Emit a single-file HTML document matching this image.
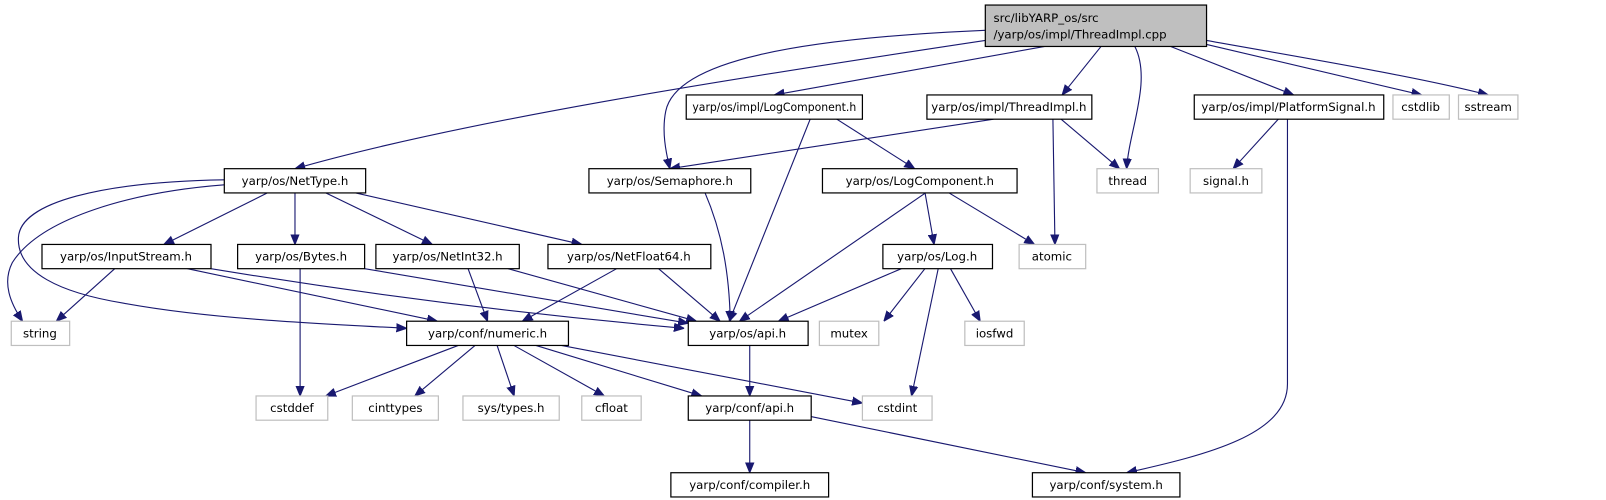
<!DOCTYPE html>
<html><head><meta charset="utf-8"><style>
html,body{margin:0;padding:0;background:#fff;width:1606px;height:500px;overflow:hidden}
svg{display:block}
text{font-family:"DejaVu Sans","Liberation Sans",sans-serif;font-size:11.5px;fill:#000;text-anchor:middle}
.n{fill:#fff;stroke:#000;stroke-width:1.2}
.g{fill:#fff;stroke:#bfbfbf;stroke-width:1.2}
.e{fill:none;stroke:#191970;stroke-width:1.1;marker-end:url(#a)}
</style></head><body>
<svg width="1606" height="500" viewBox="0 0 1568 495" preserveAspectRatio="none">
<defs><marker id="a" viewBox="0 0 10 10" refX="10" refY="5" markerWidth="10" markerHeight="10" markerUnits="userSpaceOnUse" orient="auto"><path d="M0,1 L10,5 L0,9 z" fill="#191970" stroke="#191970"/></marker></defs>
<path class="e" d="M962,40 C700,80 450,120 288,167"/>
<path class="e" d="M962,30 C780,38 660,60 650,110 C646,130 650,150 654,167"/>
<path class="e" d="M1020,46 L756,94"/>
<path class="e" d="M1075,46 L1037,94"/>
<path class="e" d="M1108,46 C1125,80 1102,130 1100,167"/>
<path class="e" d="M1143,46 L1263,94"/>
<path class="e" d="M1178,44 L1388,94"/>
<path class="e" d="M1178,40 C1260,55 1380,75 1453,94"/>
<path class="e" d="M791,118 L712,318"/>
<path class="e" d="M817,118 L893,167"/>
<path class="e" d="M970,118 L654,167"/>
<path class="e" d="M1036,118 L1093,167"/>
<path class="e" d="M1028,118 L1030,242"/>
<path class="e" d="M1248,118 L1204,167"/>
<path class="e" d="M1257,118 L1257,380 C1257,430 1180,450 1100,468"/>
<path class="e" d="M688,190 C705,230 712,270 713,318"/>
<path class="e" d="M905,190 L722,318"/>
<path class="e" d="M903,190 L912,242"/>
<path class="e" d="M925,190 L1010,242"/>
<path class="e" d="M263,190 L160,242"/>
<path class="e" d="M288,190 L288,242"/>
<path class="e" d="M316,190 L422,242"/>
<path class="e" d="M343,190 L568,242"/>
<path class="e" d="M219,183 C130,190 40,215 12,260 C2,280 10,300 22,318"/>
<path class="e" d="M219,178 C100,180 20,200 18,235 C16,270 60,290 120,300 C200,315 300,320 397,325"/>
<path class="e" d="M112,266 L55,318"/>
<path class="e" d="M183,266 L427,318"/>
<path class="e" d="M206,266 C350,290 500,310 668,325"/>
<path class="e" d="M293,266 L293,392"/>
<path class="e" d="M356,266 L672,320"/>
<path class="e" d="M457,266 L476,318"/>
<path class="e" d="M496,266 L680,318"/>
<path class="e" d="M602,266 L510,318"/>
<path class="e" d="M643,266 L703,318"/>
<path class="e" d="M880,266 L760,318"/>
<path class="e" d="M903,266 L863,318"/>
<path class="e" d="M928,266 L957,318"/>
<path class="e" d="M916,266 L890,392"/>
<path class="e" d="M450,341 L318,392"/>
<path class="e" d="M465,341 L405,392"/>
<path class="e" d="M485,341 L502,392"/>
<path class="e" d="M500,341 L590,392"/>
<path class="e" d="M520,341 L685,392"/>
<path class="e" d="M543,341 L842,399"/>
<path class="e" d="M732,341 L732,392"/>
<path class="e" d="M732,415 L732,468"/>
<path class="e" d="M790,412 L1060,468"/>
<rect x="962" y="5" width="216" height="41" fill="#bfbfbf" stroke="#000" stroke-width="1.2"/>
<text x="970" y="22" style="text-anchor:start">src/libYARP_os/src</text>
<text x="970" y="38" style="text-anchor:start">/yarp/os/impl/ThreadImpl.cpp</text>
<rect class="n" x="670" y="94" width="172" height="24"/><text x="756" y="110" textLength="160" lengthAdjust="spacingAndGlyphs">yarp/os/impl/LogComponent.h</text>
<rect class="n" x="905" y="94" width="161" height="24"/><text x="985" y="110">yarp/os/impl/ThreadImpl.h</text>
<rect class="n" x="1166" y="94" width="185" height="24"/><text x="1258" y="110">yarp/os/impl/PlatformSignal.h</text>
<rect class="g" x="1360" y="94" width="55" height="24"/><text x="1387" y="110">cstdlib</text>
<rect class="g" x="1424" y="94" width="58" height="24"/><text x="1453" y="110">sstream</text>
<rect class="n" x="219" y="167" width="138" height="24"/><text x="288" y="183">yarp/os/NetType.h</text>
<rect class="n" x="575" y="167" width="158" height="24"/><text x="654" y="183">yarp/os/Semaphore.h</text>
<rect class="n" x="803" y="167" width="190" height="24"/><text x="898" y="183">yarp/os/LogComponent.h</text>
<rect class="g" x="1071" y="167" width="60" height="24"/><text x="1101" y="183">thread</text>
<rect class="g" x="1162" y="167" width="70" height="24"/><text x="1197" y="183">signal.h</text>
<rect class="n" x="41" y="242" width="165" height="24"/><text x="123" y="258">yarp/os/InputStream.h</text>
<rect class="n" x="232" y="242" width="124" height="24"/><text x="294" y="258">yarp/os/Bytes.h</text>
<rect class="n" x="367" y="242" width="140" height="24"/><text x="437" y="258">yarp/os/NetInt32.h</text>
<rect class="n" x="535" y="242" width="159" height="24"/><text x="614" y="258">yarp/os/NetFloat64.h</text>
<rect class="n" x="862" y="242" width="107" height="24"/><text x="915" y="258">yarp/os/Log.h</text>
<rect class="g" x="995" y="242" width="65" height="24"/><text x="1027" y="258">atomic</text>
<rect class="g" x="11" y="318" width="57" height="24"/><text x="39" y="334">string</text>
<rect class="n" x="397" y="318" width="158" height="24"/><text x="476" y="334">yarp/conf/numeric.h</text>
<rect class="n" x="672" y="318" width="117" height="24"/><text x="730" y="334">yarp/os/api.h</text>
<rect class="g" x="800" y="318" width="58" height="24"/><text x="829" y="334">mutex</text>
<rect class="g" x="942" y="318" width="58" height="24"/><text x="971" y="334">iosfwd</text>
<rect class="g" x="250" y="392" width="70" height="24"/><text x="285" y="408">cstddef</text>
<rect class="g" x="344" y="392" width="84" height="24"/><text x="386" y="408">cinttypes</text>
<rect class="g" x="452" y="392" width="94" height="24"/><text x="499" y="408">sys/types.h</text>
<rect class="g" x="568" y="392" width="58" height="24"/><text x="597" y="408">cfloat</text>
<rect class="n" x="672" y="392" width="120" height="24"/><text x="732" y="408">yarp/conf/api.h</text>
<rect class="g" x="842" y="392" width="68" height="24"/><text x="876" y="408">cstdint</text>
<rect class="n" x="655" y="468" width="154" height="24"/><text x="732" y="484">yarp/conf/compiler.h</text>
<rect class="n" x="1008" y="468" width="144" height="24"/><text x="1080" y="484">yarp/conf/system.h</text>
</svg>
</body></html>
